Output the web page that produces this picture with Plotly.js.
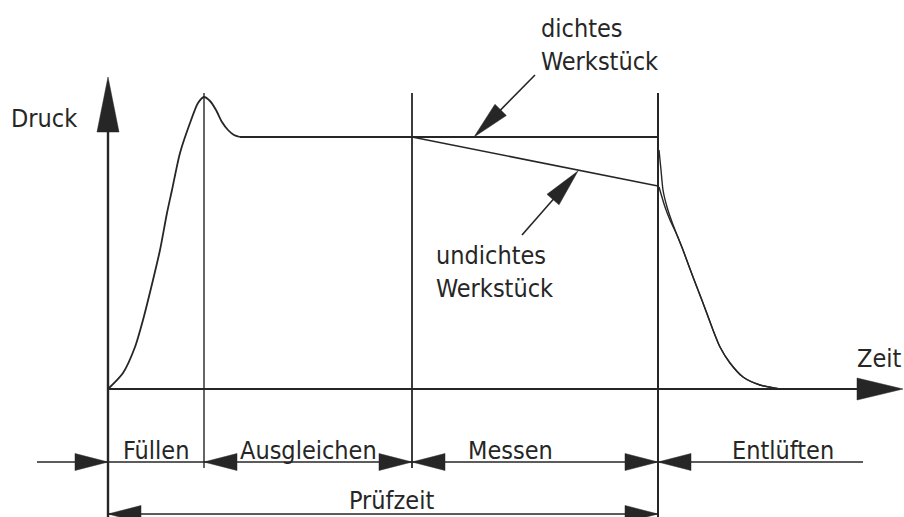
<!DOCTYPE html>
<html>
<head>
<meta charset="utf-8">
<script src="https://cdn.plot.ly/plotly-3.0.1.min.js"></script>
<style>
  html, body { margin: 0; padding: 0; background: #fff; }
  #plot { width: 904px; height: 517px; }
</style>
</head>
<body>
<div id="plot"></div>
<script>
  // --- data: time t and pressure p in drawing units (1 unit = 10 px) ---
  // filling + overshoot while equalizing
  const fillT = [0, 1.5, 2.7, 3.5, 4.5, 5.2, 5.9, 6.4, 7.2, 8.2, 9.0, 9.6, 10.2, 10.8, 11.4, 12.0, 12.6, 13.2];
  const fillP = [0, 1.6, 4.2, 6.9, 10.9, 13.9, 17.6, 19.9, 23.6, 26.6, 28.6, 29.2, 28.8, 27.9, 26.7, 25.9, 25.4, 25.2];

  // plateau and measuring phase
  const tightT = [13.2, 30.4, 55.0];
  const tightP = [25.2, 25.2, 25.2];
  const leakT = [30.4, 55.0];
  const leakP = [25.2, 20.3];

  // venting
  const ventTightT = [55.1, 55.3, 55.5, 55.9, 56.4, 56.9, 57.5, 58.5, 59.5, 60.5, 61.2, 62.2, 63.5, 65.2, 67.2];
  const ventTightP = [23.9, 21.9, 19.9, 18.2, 16.7, 15.4, 13.9, 11.2, 8.6, 5.9, 4.2, 2.6, 1.2, 0.4, 0.0];
  const ventLeakT = [55.1, 55.7, 56.2, 56.9, 57.5, 58.5, 59.5, 60.5, 61.2, 62.2, 63.5, 65.2, 67.2];
  const ventLeakP = [20.2, 18.2, 16.9, 15.4, 13.9, 11.2, 8.6, 5.9, 4.2, 2.6, 1.2, 0.4, 0.0];

  // phases
  const phaseNames = ['Füllen', 'Ausgleichen', 'Messen', 'Entlüften'];
  const phaseBounds = [0, 9.6, 30.4, 55.0];
  const testTimeName = 'Prüfzeit';

  // --- layout constants (positions in drawing units) ---
  const tRange = [-10.8, 79.6], pRange = [-12.8, 38.9];
  const phaseLabelT = [4.8, 20.0, 40.2, 67.5];
  const dimP = -7.3, dimStart = -7.1, dimEnd = 75.5;
  const testP = -12.5;
  const vTop = 29.6, vBottom = -7.9;
  const ink = '#262626';
  const font = { family: '"DejaVu Sans Condensed", "Liberation Sans Narrow", sans-serif', size: 25, color: ink };

  // filled triangle, tip at (t,p), pointing along (dt,dp)
  function tri(t, p, dt, dp, len, half) {
    const n = Math.hypot(dt, dp), ux = dt / n, uy = dp / n;
    const bx = t - ux * len, by = p - uy * len;
    const px = -uy * half, py = ux * half;
    return `M ${t},${p} L ${bx + px},${by + py} L ${bx - px},${by - py} Z`;
  }
  const line = (x0, y0, x1, y1, w) => ({ type: 'line', x0, y0, x1, y1, line: { color: ink, width: w || 1.6 } });
  const head = (path) => ({ type: 'path', path, fillcolor: ink, line: { color: ink, width: 0.5 } });

  const shapes = [];
  // axes with arrows
  shapes.push(line(0, pRange[0] - 1, 0, 27, 2.4));
  shapes.push(head(tri(0, 31.2, 0, 1, 5.5, 1.1)));
  shapes.push(line(0, 0, 75, 0, 2));
  shapes.push(head(tri(79.5, 0, 1, 0, 4.6, 1.1)));

  // phase boundaries
  shapes.push(line(phaseBounds[1], vTop, phaseBounds[1], vBottom, 1.4));
  shapes.push(line(phaseBounds[2], vTop, phaseBounds[2], vBottom, 1.8));
  shapes.push(line(phaseBounds[3], vTop, phaseBounds[3], pRange[0] - 1, 2));

  // dimension lines
  shapes.push(line(dimStart, dimP, dimEnd, dimP, 1.6));
  const dimArrows = [[0, 1], [1, -1], [2, 1], [2, -1], [3, 1], [3, -1]];
  dimArrows.forEach(([i, d]) => shapes.push(head(tri(phaseBounds[i], dimP, d, 0, 3.3, 0.85))));
  shapes.push(line(phaseBounds[0], testP, phaseBounds[3], testP, 1.6));
  shapes.push(head(tri(phaseBounds[0], testP, -1, 0, 3.3, 0.85)));
  shapes.push(head(tri(phaseBounds[3], testP, 1, 0, 3.3, 0.85)));

  // pointer arrows to the two curves
  const pointers = [
    { tail: [42.7, 31.4], tip: [36.6, 25.2] },
    { tail: [41.4, 15.4], tip: [47.0, 21.8] },
  ];
  pointers.forEach(({ tail, tip }) => {
    shapes.push(line(tail[0], tail[1], tip[0] - (tip[0] - tail[0]) * 0.3, tip[1] - (tip[1] - tail[1]) * 0.3, 1.6));
    shapes.push(head(tri(tip[0], tip[1], tip[0] - tail[0], tip[1] - tail[1], 3.8, 0.8)));
  });

  const txt = (text, x, y, xanchor) => ({ text, x, y, xref: 'x', yref: 'y', xanchor: xanchor || 'center', yanchor: 'middle', align: 'left', showarrow: false, font });
  const annotations = [
    txt('Druck', -6.4, 27.1),
    txt('Zeit', 77.1, 3.1),
    txt('dichtes<br>Werkstück', 43.1, 34.4, 'left'),
    txt('undichtes<br>Werkstück', 32.6, 11.7, 'left'),
    txt(testTimeName, 28.3, -11.1),
  ];
  phaseNames.forEach((n, i) => annotations.push(txt(n, phaseLabelT[i], -6.1)));

  const curve = (x, y, shape, w) => ({ x, y, mode: 'lines', line: { color: ink, width: w, shape, smoothing: 0.7 }, hoverinfo: 'skip' });

  Plotly.newPlot('plot', [
    curve(fillT, fillP, 'spline', 1.8),
    curve(tightT, tightP, 'linear', 1.8),
    curve(leakT, leakP, 'linear', 1.6),
    curve(ventTightT, ventTightP, 'spline', 1.4),
    curve(ventLeakT, ventLeakP, 'spline', 1.4),
  ], {
    width: 904, height: 517,
    margin: { l: 0, r: 0, t: 0, b: 0 },
    paper_bgcolor: '#fff', plot_bgcolor: '#fff',
    showlegend: false,
    xaxis: { range: tRange, visible: false, fixedrange: true },
    yaxis: { range: pRange, visible: false, fixedrange: true },
    shapes, annotations,
  }, { staticPlot: true });
</script>
</body>
</html>
